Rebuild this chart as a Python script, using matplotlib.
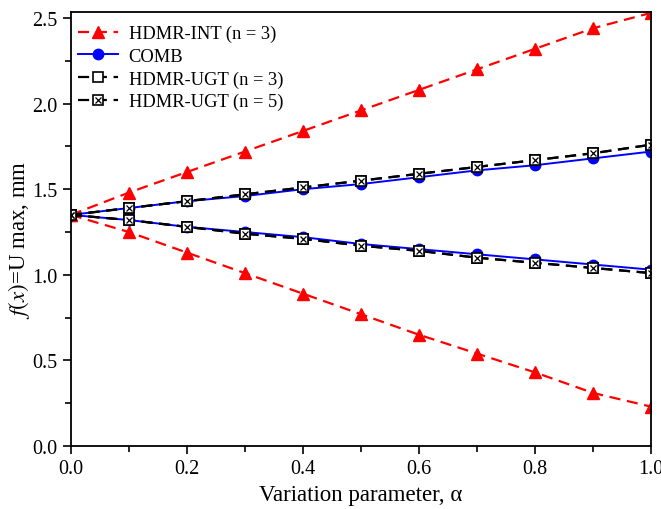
import numpy as np
import matplotlib.pyplot as plt
from matplotlib import ticker
from matplotlib.lines import Line2D

plt.rcParams['font.family'] = 'Liberation Serif'
plt.rcParams['mathtext.fontset'] = 'stix'

alpha = [0.0, 0.1, 0.2, 0.3, 0.4, 0.5, 0.6, 0.7, 0.8, 0.9, 1.0]

# HDMR-INT (n = 3), upper and lower bounds
int_upper = [1.35, 1.48, 1.60, 1.72, 1.84, 1.96, 2.08, 2.20, 2.32, 2.44, 2.53]
int_lower = [1.35, 1.25, 1.13, 1.01, 0.89, 0.77, 0.65, 0.54, 0.43, 0.31, 0.23]

# COMB
comb_upper = [1.35, 1.39, 1.43, 1.46, 1.50, 1.53, 1.57, 1.61, 1.64, 1.68, 1.72]
comb_lower = [1.35, 1.32, 1.28, 1.25, 1.22, 1.18, 1.15, 1.12, 1.09, 1.06, 1.03]

# HDMR-UGT, n = 3 and n = 5 give the same bounds
ugt3_upper = [1.35, 1.39, 1.43, 1.47, 1.51, 1.55, 1.59, 1.63, 1.67, 1.71, 1.76]
ugt3_lower = [1.35, 1.32, 1.28, 1.24, 1.21, 1.17, 1.14, 1.10, 1.07, 1.04, 1.01]
ugt5_upper = [1.35, 1.39, 1.43, 1.47, 1.51, 1.55, 1.59, 1.63, 1.67, 1.71, 1.76]
ugt5_lower = [1.35, 1.32, 1.28, 1.24, 1.21, 1.17, 1.14, 1.10, 1.07, 1.04, 1.01]

fig = plt.figure(figsize=(6.61, 5.10), dpi=100)
ax = fig.add_axes([0.107, 0.1235, 0.878, 0.851])

dash = (0, (5, 3))
red_kw = dict(color='#ff0000', ls=dash, lw=1.6, marker='^', ms=8.5, mec='#ff0000')
blue_kw = dict(color='#0000ff', ls='-', lw=1.4, marker='o', ms=7.5, mec='#0000ff')
ugt3_kw = dict(color='black', ls=dash, lw=1.6, marker='s', ms=6.5, mfc='white', mec='black', mew=1.2)
ugt5_kw = dict(color='black', ls=dash, lw=1.6, marker='s', ms=6.5, mfc='white', mec='black', mew=1.2)
cross_kw = dict(ls='none', marker='x', ms=4.5, mec='black', mew=0.9)

ax.plot(alpha, int_upper, label='HDMR-INT (n = 3)', **red_kw)
ax.plot(alpha, int_lower, **red_kw)
ax.plot(alpha, comb_upper, label='COMB', **blue_kw)
ax.plot(alpha, comb_lower, **blue_kw)
ax.plot(alpha, ugt3_upper, label='HDMR-UGT (n = 3)', **ugt3_kw)
ax.plot(alpha, ugt3_lower, **ugt3_kw)
ax.plot(alpha, ugt5_upper, **ugt5_kw)
ax.plot(alpha, ugt5_lower, **ugt5_kw)
# crossed square for n = 5
ax.plot(alpha, ugt5_upper, **cross_kw)
ax.plot(alpha, ugt5_lower, **cross_kw)

h, l = ax.get_legend_handles_labels()
h.append((Line2D([], [], **ugt5_kw), Line2D([], [], **cross_kw)))
l.append('HDMR-UGT (n = 5)')
ax.legend(h, l, loc='upper left', frameon=False, fontsize=13.3, handlelength=2.2,
          handletextpad=0.55, labelspacing=0.3, borderaxespad=0.3,
          bbox_to_anchor=(-0.01, 1.0))

ax.set_xlim(0, 1.0)
ax.set_ylim(0, 2.535)
ax.xaxis.set_major_locator(ticker.MultipleLocator(0.2))
ax.xaxis.set_minor_locator(ticker.MultipleLocator(0.1))
ax.yaxis.set_major_locator(ticker.MultipleLocator(0.5))
ax.yaxis.set_minor_locator(ticker.MultipleLocator(0.25))
ax.xaxis.set_major_formatter(ticker.FormatStrFormatter('%.1f'))
ax.yaxis.set_major_formatter(ticker.FormatStrFormatter('%.1f'))
ax.tick_params(which='both', direction='out', width=1.2, labelsize=14.5, colors='black')
ax.tick_params(which='major', length=6)
ax.tick_params(which='minor', length=4)
for s in ax.spines.values():
    s.set_linewidth(1.3)

ax.set_xlabel('Variation parameter, α', fontsize=16.5)
ax.set_ylabel('$f(x)$=U max, mm', fontsize=16.5)
ax.yaxis.set_label_coords(-0.066, 0.477)

fig.savefig('out.png', dpi=100)
